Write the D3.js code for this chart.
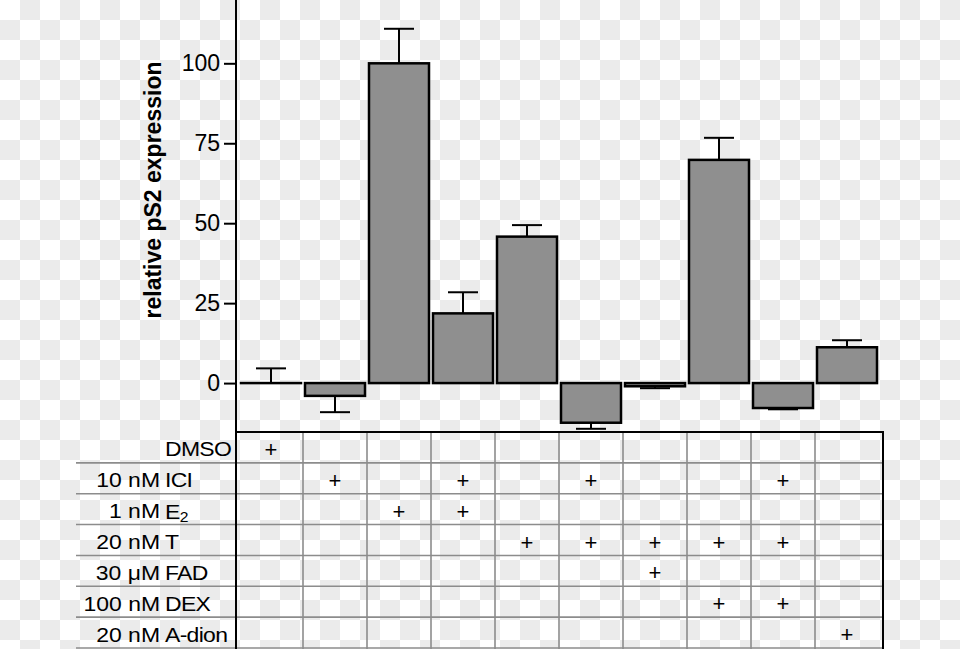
<!DOCTYPE html>
<html>
<head>
<meta charset="UTF-8">
<style>
body{
	margin: 0;
	font-family: "Liberation Sans", Arial, sans-serif;
}
svg{
	display: block;
}
.axis text{
	font-size: 23px;
	fill: #000;
	font-family: "Liberation Sans", Arial, sans-serif;
}
.axis line{
	stroke: #000;
	stroke-width: 2px;
}
.axis path{
	display: none;
}
.bar{
	fill: #8f8f8f;
	stroke: #000;
	stroke-width: 2.5px;
}
.err{
	stroke: #000;
	stroke-width: 2px;
	fill: none;
}
.grid-line{
	stroke: #8c8c8c;
	stroke-width: 1.6px;
}
.frame-line{
	stroke: #000;
	stroke-width: 2px;
}
.row-label{
	font-size: 20.5px;
	fill: #000;
}
.plus{
	font-size: 22px;
	fill: #000;
}
.y-label{
	font-size: 23px;
	font-weight: bold;
	text-anchor: middle;
}
</style>
<script src="https://cdn.jsdelivr.net/npm/d3@7"></script>
</head>
<body>
<script>
// treatment groups (columns) and measured values
var groups = ["DMSO", "ICI", "E2", "ICI+E2", "T", "ICI+T", "T+FAD", "T+DEX", "ICI+T+DEX", "A-dion"];
var values = [0, -4, 100, 21.8, 45.8, -12.4, -1, 69.8, -7.8, 11.2];
var errors = [4.6, 5.1, 10.8, 6.6, 3.6, 1.9, 0.6, 6.9, 0.4, 2.2];
var yTicks = [0, 25, 50, 75, 100];

// treatment table rows: dose, compound, and which columns carry a "+"
var rowDose = ["", "10 nM", "1 nM", "20 nM", "30 \u03bcM", "100 nM", "20 nM"];
var rowName = ["DMSO", "ICI", "E2", "T", "FAD", "DEX", "A-dion"];
var rowPlus = [[0], [1, 3, 5, 8], [2, 3], [4, 5, 6, 7, 8], [6], [7, 8], [9]];

var W = 960, H = 649;
var axisX = 236, tableTop = 432, tableBottom = 648, tableRight = 883, rowLeft = 76;
var doseRight = 160, nameLeft = 165, textStretch = 1.12;

var svg = d3.select("body").append("svg")
	.attr("width", W)
	.attr("height", H);

// checkered backdrop
var defs = svg.append("defs");
var pat = defs.append("pattern")
	.attr("id", "checker")
	.attr("width", 40).attr("height", 40)
	.attr("patternUnits", "userSpaceOnUse");
pat.append("rect").attr("width", 40).attr("height", 40).attr("fill", "#fff");
pat.append("rect").attr("x", 20).attr("y", 0).attr("width", 20).attr("height", 20).attr("fill", "#ebebeb");
pat.append("rect").attr("x", 0).attr("y", 20).attr("width", 20).attr("height", 20).attr("fill", "#ebebeb");
svg.append("rect").attr("width", W).attr("height", H).attr("fill", "url(#checker)");

var x = d3.scaleBand()
	.domain(groups)
	.range([239, 879])
	.paddingInner(0.0625)
	.paddingOuter(0.03125);

var y = d3.scaleLinear()
	.domain([-15.3, 119.8])
	.range([tableTop, 0]);

var rows = d3.scaleBand()
	.domain(rowName)
	.range([tableTop, tableBottom]);

// bars (a zero bar still shows as a flat line)
svg.append("g").selectAll("rect")
	.data(groups)
	.enter().append("rect")
	.attr("class", "bar")
	.attr("x", function(d){ return x(d); })
	.attr("width", x.bandwidth())
	.attr("y", function(d, i){ return y(Math.max(0, values[i])); })
	.attr("height", function(d, i){ return Math.max(0.01, Math.abs(y(values[i]) - y(0))); });

// error bars, drawn away from zero
var errG = svg.append("g").attr("class", "err");
groups.forEach(function(g, i){
	var cx = x(g) + x.bandwidth() / 2;
	var sign = values[i] < 0 ? -1 : 1;
	var y0 = y(values[i]), y1 = y(values[i] + sign * errors[i]);
	errG.append("line").attr("x1", cx).attr("x2", cx).attr("y1", y0).attr("y2", y1);
	errG.append("line").attr("x1", cx - 15).attr("x2", cx + 15).attr("y1", y1).attr("y2", y1);
});

// y axis
svg.append("g")
	.attr("class", "axis")
	.attr("transform", "translate(" + axisX + ",0)")
	.call(d3.axisLeft(y).tickValues(yTicks).tickSize(12).tickPadding(4));

svg.append("text")
	.attr("class", "y-label")
	.attr("transform", "translate(161," + 190 + ") rotate(-90)")
	.text("relative pS2 expression");

// table grid
var grid = svg.append("g");
rows.domain().forEach(function(r, i){
	if(i > 0){
		grid.append("line").attr("class", "grid-line")
			.attr("x1", rowLeft).attr("x2", tableRight)
			.attr("y1", rows(r)).attr("y2", rows(r));
	}
});
grid.append("line").attr("class", "grid-line")
	.attr("x1", rowLeft).attr("x2", tableRight)
	.attr("y1", tableBottom).attr("y2", tableBottom);
groups.forEach(function(g, i){
	if(i > 0){
		var gx = x(g) - (x.step() - x.bandwidth()) / 2;
		grid.append("line").attr("class", "grid-line")
			.attr("x1", gx).attr("x2", gx)
			.attr("y1", tableTop).attr("y2", H);
	}
});
grid.append("line").attr("class", "frame-line")
	.attr("x1", axisX).attr("x2", tableRight)
	.attr("y1", tableTop).attr("y2", tableTop);
grid.append("line").attr("class", "frame-line")
	.attr("x1", tableRight).attr("x2", tableRight)
	.attr("y1", tableTop - 1).attr("y2", H);
grid.append("line").attr("class", "frame-line")
	.attr("x1", axisX).attr("x2", axisX)
	.attr("y1", 0).attr("y2", H);

// row labels: dose right-aligned, compound left-aligned
var labelG = svg.append("g");
rowName.forEach(function(name, i){
	var cy = rows(name) + rows.bandwidth() / 2 + 2;
	if(rowDose[i]){
		labelG.append("text")
			.attr("class", "row-label")
			.attr("transform", "translate(" + doseRight + "," + cy + ") scale(" + textStretch + ",1)")
			.attr("text-anchor", "end")
			.attr("dominant-baseline", "central")
			.text(rowDose[i]);
	}
	var t = labelG.append("text")
		.attr("class", "row-label")
		.attr("transform", "translate(" + nameLeft + "," + cy + ") scale(" + textStretch + ",1)")
		.attr("dominant-baseline", "central")
		.attr("letter-spacing", "-0.6px");
	if(name === "E2"){
		t.append("tspan").text("E");
		t.append("tspan").attr("font-size", "14px").attr("dy", 6).text("2");
	} else {
		t.text(name);
	}
});

// plus marks
var plusG = svg.append("g");
rowPlus.forEach(function(cols, r){
	cols.forEach(function(c){
		plusG.append("text")
			.attr("class", "plus")
			.attr("x", x(groups[c]) + x.bandwidth() / 2)
			.attr("y", rows(rowName[r]) + rows.bandwidth() / 2 + 2)
			.attr("text-anchor", "middle")
			.attr("dominant-baseline", "central")
			.text("+");
	});
});
</script>
</body>
</html>
